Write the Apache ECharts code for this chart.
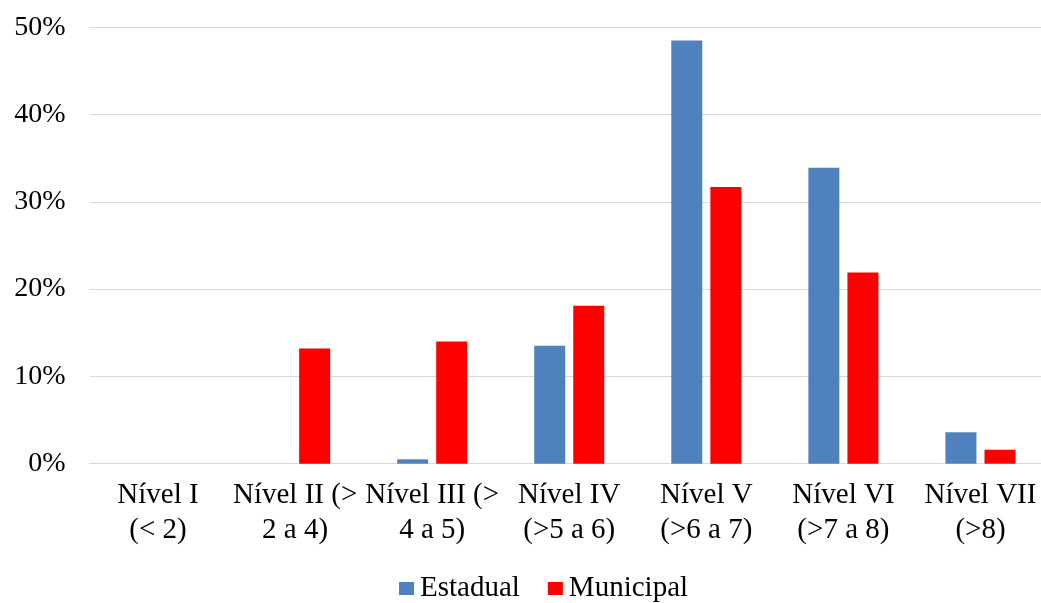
<!DOCTYPE html>
<html>
<head>
<meta charset="utf-8">
<script src="https://cdn.jsdelivr.net/npm/echarts@6/dist/echarts.min.js"></script>
<style>
html,body{margin:0;padding:0;background:#fff;overflow:hidden;width:1041px;height:603px;}
#chart{width:1049px;height:603px;}
</style>
</head>
<body>
<div id="chart"></div>
<script>
const categories = [
  "Nível I\n(< 2)",
  "Nível II (>\n2 a 4)",
  "Nível III (>\n4 a 5)",
  "Nível IV\n(>5 a 6)",
  "Nível V\n(>6 a 7)",
  "Nível VI\n(>7 a 8)",
  "Nível VII\n(>8)"
];
const estadual = [0, 0, 0.5, 13.5, 48.5, 33.9, 3.6];
const municipal = [0, 13.2, 14.0, 18.1, 31.7, 21.9, 1.6];
const seriesNames = ["Estadual", "Municipal"];
const yTicks = { min: 0, max: 50, interval: 10 };

const FONT = "'Liberation Serif', 'Times New Roman', serif";
const chart = echarts.init(document.getElementById('chart'), null, { renderer: 'canvas' });
chart.setOption({
  animation: false,
  backgroundColor: '#ffffff',
  grid: { left: 89.5, right: 0, top: 27.3, bottom: 139.3, containLabel: false },
  legend: {
    data: seriesNames,
    bottom: -5,
    left: 394,
    icon: 'rect',
    itemWidth: 15,
    itemHeight: 13,
    itemGap: 28,
    textStyle: { fontFamily: FONT, fontSize: 29, color: '#000', padding: [0, 0, 0, 1] }
  },
  xAxis: {
    type: 'category',
    data: categories,
    axisTick: { show: false },
    axisLine: { show: true, lineStyle: { color: '#d9d9d9', width: 1 } },
    axisLabel: {
      interval: 0,
      margin: 14,
      fontFamily: FONT,
      fontSize: 29,
      lineHeight: 35,
      color: '#000'
    }
  },
  yAxis: {
    type: 'value',
    min: yTicks.min,
    max: yTicks.max,
    interval: yTicks.interval,
    axisLine: { show: false },
    axisTick: { show: false },
    splitLine: { lineStyle: { color: '#d9d9d9', width: 1 } },
    axisLabel: {
      formatter: '{value}%',
      margin: 24,
      fontFamily: FONT,
      fontSize: 28,
      color: '#000'
    }
  },
  series: [
    {
      name: seriesNames[0],
      type: 'bar',
      data: estadual,
      barWidth: 31,
      barGap: '26%',
      itemStyle: { color: '#4F81BD' }
    },
    {
      name: seriesNames[1],
      type: 'bar',
      data: municipal,
      barWidth: 31,
      barGap: '26%',
      itemStyle: { color: '#FF0000' }
    }
  ]
});
</script>
</body>
</html>
